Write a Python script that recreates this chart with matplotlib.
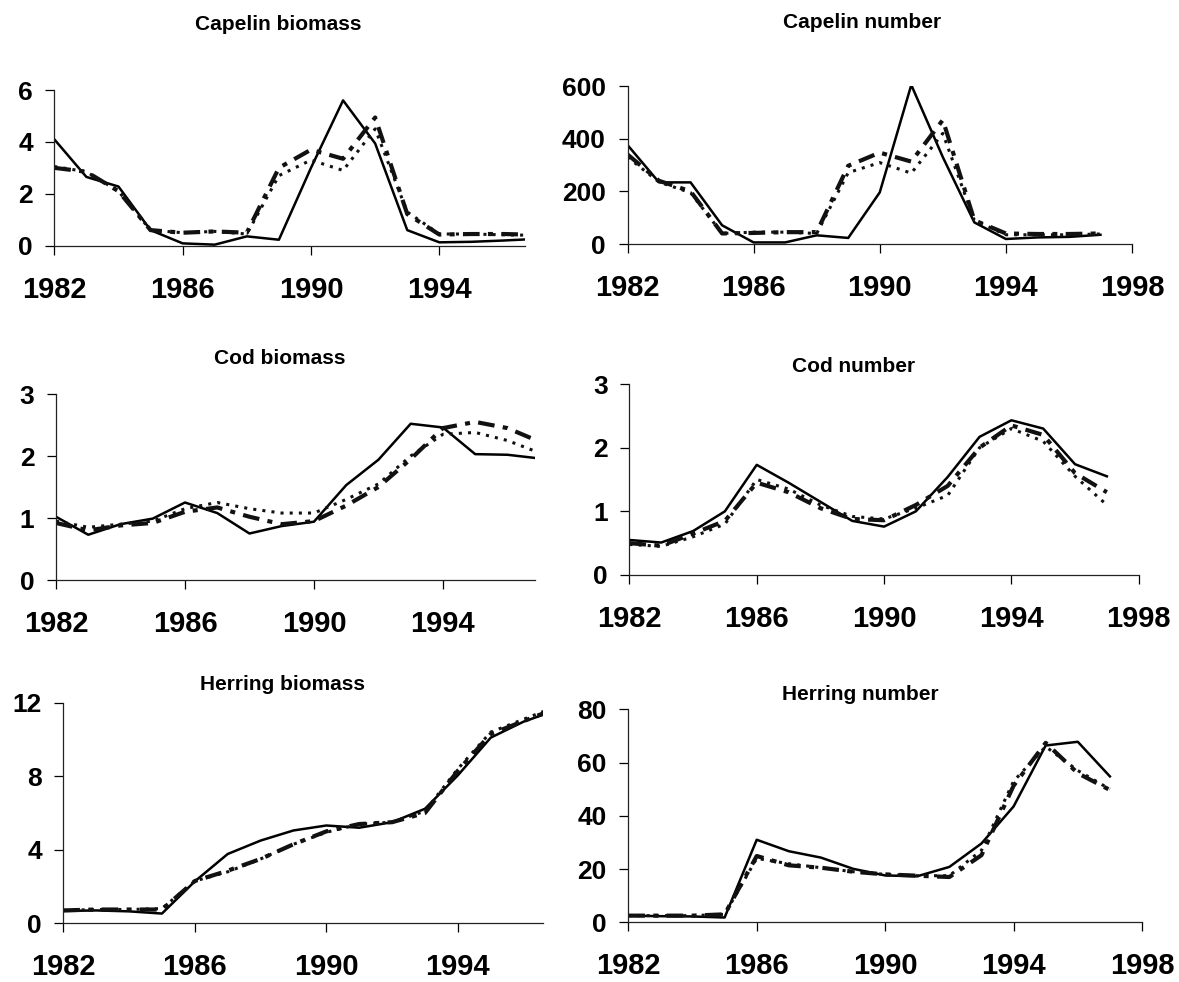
import numpy as np
import matplotlib
matplotlib.use('Agg')
import matplotlib.pyplot as plt

plt.rcParams['font.family'] = ['Liberation Sans', 'DejaVu Sans']

years = np.arange(1982, 1998)

# capelin biomass
cap_bio_obs = [4.1, 2.65, 2.28, 0.6, 0.09, 0.04, 0.36, 0.23, 3.0, 5.6, 3.94, 0.6, 0.13, 0.15, 0.2, 0.26]
cap_bio_m1 = [3.0, 2.85, 2.1, 0.6, 0.5, 0.55, 0.5, 3.0, 3.7, 3.35, 4.94, 1.22, 0.43, 0.45, 0.45, 0.42]
cap_bio_m2 = [3.05, 2.85, 2.1, 0.6, 0.5, 0.55, 0.45, 2.7, 3.3, 2.9, 4.5, 1.3, 0.45, 0.45, 0.42, 0.4]
# capelin number
cap_num_obs = [376, 234, 234, 71, 6, 6, 33, 23, 196, 604, 330, 82, 19, 25, 27, 35]
cap_num_m1 = [340, 240, 200, 40, 42, 45, 45, 297, 347, 313, 471, 90, 40, 38, 38, 40]
cap_num_m2 = [330, 235, 195, 40, 45, 45, 40, 271, 309, 269, 420, 90, 35, 35, 35, 38]
# cod biomass
cod_bio_obs = [1.02, 0.73, 0.9, 0.99, 1.25, 1.08, 0.75, 0.87, 0.94, 1.53, 1.94, 2.52, 2.46, 2.03, 2.02, 1.96]
cod_bio_m1 = [0.92, 0.8, 0.88, 0.92, 1.1, 1.17, 1.02, 0.9, 0.95, 1.2, 1.5, 1.95, 2.45, 2.55, 2.45, 2.23]
cod_bio_m2 = [0.95, 0.85, 0.9, 0.95, 1.15, 1.25, 1.15, 1.08, 1.08, 1.3, 1.55, 2.0, 2.35, 2.38, 2.25, 2.05]
# cod number
cod_num_obs = [0.55, 0.51, 0.69, 1.0, 1.73, 1.45, 1.15, 0.85, 0.76, 1.0, 1.54, 2.17, 2.43, 2.3, 1.74, 1.55]
cod_num_m1 = [0.5, 0.46, 0.65, 0.85, 1.45, 1.3, 1.05, 0.88, 0.86, 1.1, 1.4, 2.0, 2.35, 2.2, 1.6, 1.3]
cod_num_m2 = [0.48, 0.45, 0.6, 0.8, 1.5, 1.35, 1.1, 0.92, 0.88, 1.05, 1.25, 2.0, 2.3, 2.1, 1.55, 1.1]
# herring biomass
her_bio_obs = [0.67, 0.7, 0.65, 0.53, 2.28, 3.77, 4.5, 5.05, 5.32, 5.2, 5.5, 6.23, 8.05, 10.1, 10.97, 11.6]
her_bio_m1 = [0.7, 0.75, 0.75, 0.75, 2.3, 2.86, 3.5, 4.3, 5.0, 5.4, 5.5, 6.0, 8.3, 10.3, 11.0, 11.7]
her_bio_m2 = [0.7, 0.75, 0.75, 0.8, 2.3, 2.8, 3.5, 4.3, 4.95, 5.4, 5.5, 6.1, 8.4, 10.4, 11.1, 11.8]
# herring number
her_num_obs = [2.5, 2.3, 2.2, 1.8, 31, 26.7, 24.3, 20.1, 17.6, 17.3, 20.8, 29.6, 43.5, 66.4, 67.8, 54.8]
her_num_m1 = [2.5, 2.5, 2.5, 3.0, 24.9, 21.4, 20.5, 19, 18, 17.5, 17, 25.2, 51.3, 67.4, 56, 49.7]
her_num_m2 = [2.5, 2.5, 2.5, 3.0, 24, 22, 20.5, 19, 18, 17.5, 17.5, 27, 53, 66, 57, 50]

panels = [
    ('Capelin biomass', cap_bio_obs, cap_bio_m1, cap_bio_m2, [0, 2, 4, 6], 1996.67, [1982, 1986, 1990, 1994]),
    ('Capelin number', cap_num_obs, cap_num_m1, cap_num_m2, [0, 200, 400, 600], 1998, [1982, 1986, 1990, 1994, 1998]),
    ('Cod biomass', cod_bio_obs, cod_bio_m1, cod_bio_m2, [0, 1, 2, 3], 1996.84, [1982, 1986, 1990, 1994]),
    ('Cod number', cod_num_obs, cod_num_m1, cod_num_m2, [0, 1, 2, 3], 1998, [1982, 1986, 1990, 1994, 1998]),
    ('Herring biomass', her_bio_obs, her_bio_m1, her_bio_m2, [0, 4, 8, 12], 1996.58, [1982, 1986, 1990, 1994]),
    ('Herring number', her_num_obs, her_num_m1, her_num_m2, [0, 20, 40, 60, 80], 1998, [1982, 1986, 1990, 1994, 1998]),
]

W, H = 1179, 982
# axes in pixels: left, right, top, bottom
px_boxes = [
    (54.3, 525, 90, 245.7),
    (627.5, 1132, 86, 244),
    (56, 534.5, 394, 580),
    (629.4, 1138.7, 384, 575),
    (63.3, 542.7, 702.7, 923.3),
    (628.3, 1142, 709.3, 922.3),
]
title_pos = [(278, 25), (862, 22), (280, 359), (854, 366), (282, 684), (860, 694)]

fig = plt.figure(figsize=(W / 100, H / 100), dpi=100)
for (name, obs, m1, m2, yt, xmax, xt), (l, r, t, b), tp in zip(panels, px_boxes, title_pos):
    ax = fig.add_axes((l / W, 1 - b / H, (r - l) / W, (b - t) / H))
    ax.plot(years, obs, color='black', lw=1.8)
    ax.plot(years, m1, color='#111111', lw=3.0, linestyle=(0, (4, 2, 1.2, 2)))
    ax.plot(years, m2, color='#111111', lw=2.2, linestyle=(0, (1, 2)))
    ax.set_xlim(1982, xmax)
    ax.set_ylim(yt[0], yt[-1])
    ax.set_xticks(xt)
    ax.set_yticks(yt)
    for s in ['top', 'right']:
        ax.spines[s].set_visible(False)
    for s in ['left', 'bottom']:
        ax.spines[s].set_linewidth(0.9)
        ax.spines[s].set_color('#222222')
    ax.tick_params(axis='x', length=6.7, width=0.9, pad=15, labelsize=21)
    ax.tick_params(axis='y', length=6.5, width=0.9, pad=9, labelsize=19)
    for lab in ax.get_xticklabels() + ax.get_yticklabels():
        lab.set_fontweight('bold')
    fig.text(tp[0] / W, 1 - tp[1] / H, name, ha='center', va='center',
             fontsize=15, fontweight='bold')

plt.savefig('out.png', dpi=100)
